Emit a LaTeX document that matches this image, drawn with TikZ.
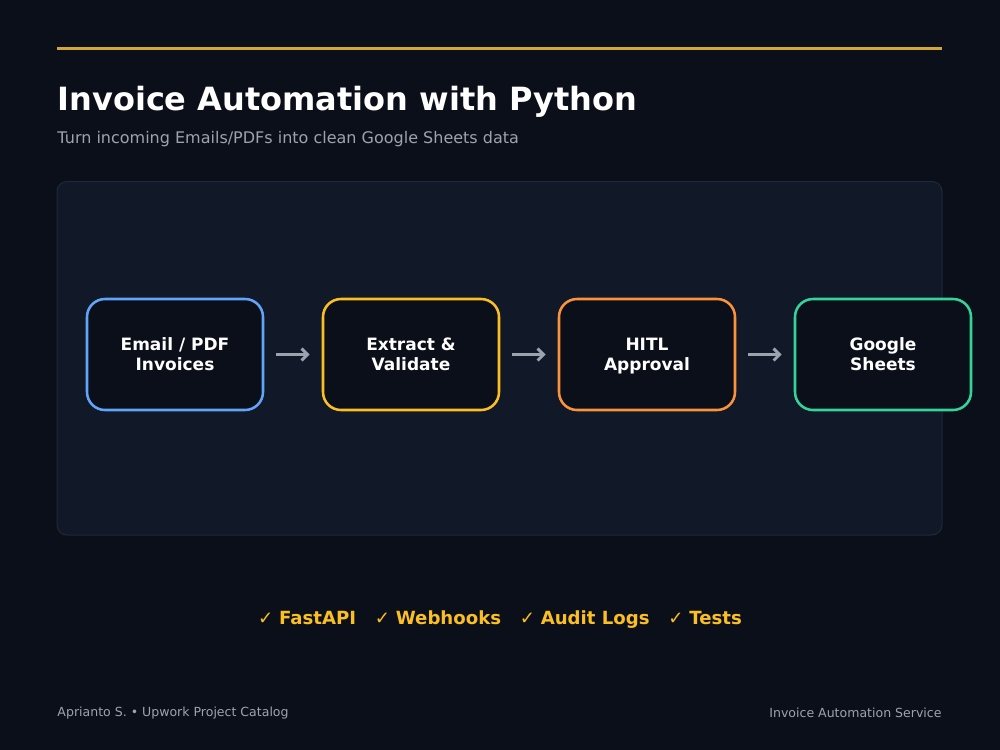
\documentclass[tikz,border=0pt]{standalone}
\usepackage{fontspec}
\setmainfont{DejaVu Sans}
\usetikzlibrary{arrows.meta}

\definecolor{bgdark}{HTML}{0B0F19}
\definecolor{panelfill}{HTML}{111827}
\definecolor{panelline}{HTML}{1F2937}
\definecolor{goldline}{HTML}{D4A537}
\definecolor{subgray}{HTML}{9CA3AF}
\definecolor{stepblue}{HTML}{60A5FA}
\definecolor{stepyellow}{HTML}{FBBF24}
\definecolor{steporange}{HTML}{FB923C}
\definecolor{stepgreen}{HTML}{34D399}

\tikzset{every picture/.style={line width=0.75pt}}

\begin{document}
\begin{tikzpicture}[
            x=0.75pt,
            y=0.75pt,
            yscale=-1,
            xscale=1,
            every node/.style={text=white},
            stagebox/.style={draw, fill=bgdark, rounded corners=13.5pt, line width=1.9pt,
                minimum width=132pt, minimum height=83.25pt, inner sep=0pt, text depth=0pt,
                align=center, font=\bfseries\fontsize{12.75}{15}\selectfont},
            flowarrow/.style={draw=subgray, line width=2.25pt, shorten <=9pt, shorten >=9pt,
                -{Straight Barb[length=4.5pt, width=9pt, line width=2.25pt]}},
            line width=0.75pt
        ]
            \useasboundingbox (0,0) rectangle (1000,750);
            \fill [bgdark] (0,0) rectangle (1000,750);
            \draw [goldline, line width=2.25pt] (57,48) -- (942,48);

            \draw (57,102) node [anchor=west][inner sep=0pt] (title) {\bfseries\fontsize{24}{28}\selectfont Invoice Automation with Python};
            \draw (57,139) node [anchor=west][inner sep=0pt, text=subgray] (subtitle) {\fontsize{12}{14}\selectfont Turn incoming Emails/PDFs into clean Google Sheets data};

            \draw [panelline, fill=panelfill, rounded corners=7.5pt] (57,181.5) rectangle (942,535);

            \node [stagebox, draw=stepblue] (email) at (175,354.5) {Email / PDF\\Invoices};
            \node [stagebox, draw=stepyellow] (extract) at (411,354.5) {Extract \&\\Validate};
            \node [stagebox, draw=steporange] (hitl) at (647,354.5) {HITL\\Approval};
            \node [stagebox, draw=stepgreen] (sheets) at (883,354.5) {Google\\Sheets};

            \draw [flowarrow] (email) -- (extract);
            \draw [flowarrow] (extract) -- (hitl);
            \draw [flowarrow] (hitl) -- (sheets);

            \draw (500,620) node [inner sep=0pt, text=stepyellow] (features) {\fontsize{13.6}{16}\selectfont ✓ \textbf{FastAPI}\hspace{14pt}✓ \textbf{Webhooks}\hspace{14pt}✓ \textbf{Audit Logs}\hspace{14pt}✓ \textbf{Tests}};

            \draw (57,713) node [anchor=west][inner sep=0pt, text=subgray] (author) {\fontsize{9.4}{11}\selectfont Aprianto S. • Upwork Project Catalog};
            \draw (942,713) node [anchor=east][inner sep=0pt, text=subgray] (service) {\fontsize{9.4}{11}\selectfont Invoice Automation Service};
        \end{tikzpicture}
\end{document}
